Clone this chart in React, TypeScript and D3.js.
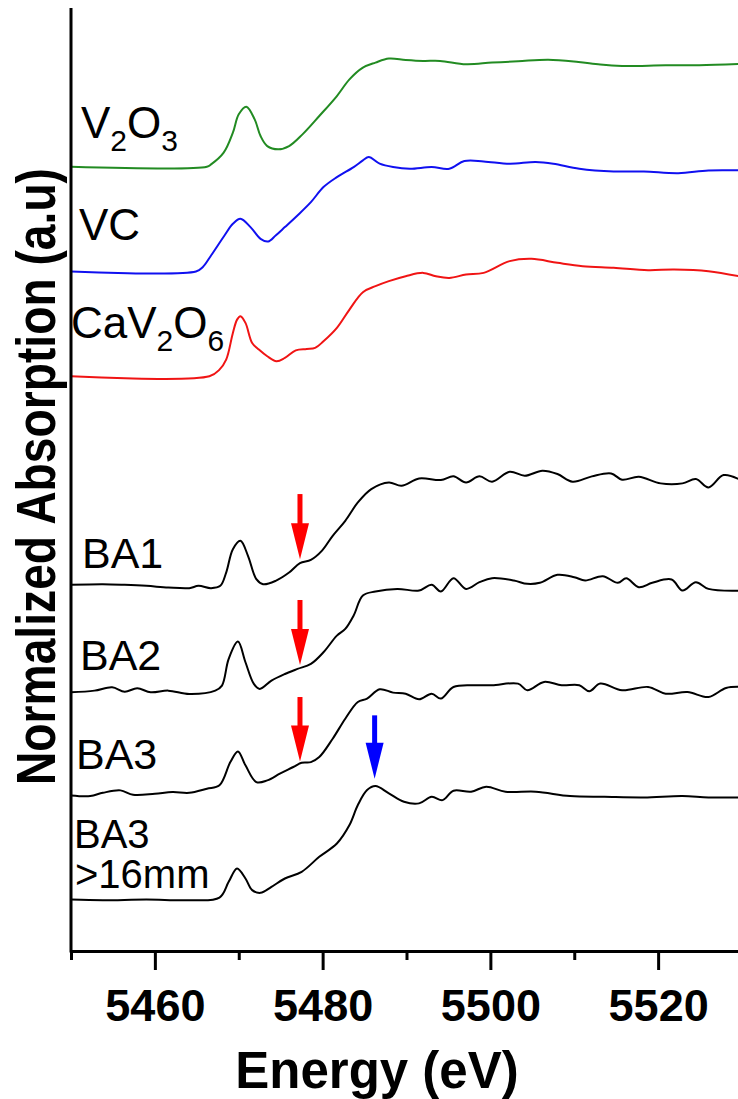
import { useEffect, useMemo, useRef } from 'react';
import * as d3 from 'd3';

const WIDTH = 738;
const HEIGHT = 1099;
const FONT = '"Liberation Sans", Arial, sans-serif';

type Pt = [number, number];

// energy (eV), normalized absorption (pre-edge = 0, edge step = 1)
const v2o3: Pt[] = [
    [5450, 0], [5466.2, 0], [5466.7, 0.022], [5468.2, 0.134], [5469.3, 0.325],
    [5470, 0.5], [5470.9, 0.573], [5471.9, 0.452], [5472.6, 0.293], [5473.4, 0.197],
    [5474.7, 0.166], [5476, 0.197], [5477.6, 0.309], [5479.6, 0.484], [5481.7, 0.675],
    [5483.2, 0.834], [5484.8, 0.946], [5486.3, 0.994], [5487.9, 1.032], [5489.9, 1.019],
    [5492, 1.01], [5494, 1.01], [5497.1, 0.978], [5500.2, 0.994], [5503.3, 1.006],
    [5506.9, 1.022], [5510.5, 1.0], [5513.1, 0.975], [5515.7, 0.962], [5520.9, 0.968],
    [5524.9, 0.968], [5530, 0.981],
];

const vc: Pt[] = [
    [5450, 0], [5464.9, 0], [5465.7, 0.041], [5466.7, 0.153], [5468.3, 0.344],
    [5469.3, 0.455], [5470.2, 0.503], [5471.4, 0.424], [5472.6, 0.312], [5473.5, 0.287],
    [5474.4, 0.344], [5475.5, 0.424], [5477, 0.535], [5478.6, 0.662], [5480.1, 0.806],
    [5481.7, 0.901], [5483.7, 0.997], [5484.8, 1.06], [5485.5, 1.092], [5486.8, 1.029],
    [5488.4, 0.997], [5490.4, 0.981], [5493, 0.997], [5495.1, 0.981], [5496.9, 1.054],
    [5499.2, 1.051], [5502.3, 1.029], [5505.4, 1.045], [5507.5, 1.029], [5510.6, 0.981],
    [5514.7, 0.955], [5518.3, 0.955], [5522.4, 0.939], [5526, 0.965], [5530, 0.965],
];

const cav2o6: Pt[] = [
    [5450, 0], [5466.5, 0], [5467.7, 0.064], [5468.5, 0.159], [5469.3, 0.414],
    [5469.8, 0.541], [5470.2, 0.573], [5470.8, 0.51], [5471.6, 0.318], [5472.4, 0.255],
    [5473.4, 0.191], [5474.5, 0.143], [5475.5, 0.175], [5476.8, 0.248], [5478.1, 0.261],
    [5479.1, 0.271], [5480.1, 0.334], [5481.7, 0.462], [5483.2, 0.637], [5484.8, 0.803],
    [5486.3, 0.86], [5487.9, 0.908], [5489.9, 0.955], [5492, 0.987], [5493.5, 0.955],
    [5495.1, 0.939], [5497.1, 0.971], [5499.2, 0.987], [5502.3, 1.099], [5504.9, 1.121],
    [5508, 1.083], [5511, 1.051], [5514.7, 1.035], [5518.8, 1.013], [5521.9, 1.019],
    [5526, 1.003], [5530, 0.949],
];

const ba1: Pt[] = [
    [5450, 0.01], [5453.8, 0.016], [5456.4, 0.01], [5459, 0], [5461.6, -0.016],
    [5464.1, -0.022], [5465.2, 0], [5466.7, -0.022], [5467.8, 0], [5468.5, 0.127],
    [5469.3, 0.35], [5470.2, 0.43], [5471.1, 0.287], [5472.1, 0.064], [5472.9, 0.016],
    [5474.4, 0.048], [5476, 0.127], [5477.3, 0.217], [5478.6, 0.248], [5479.9, 0.334],
    [5481.2, 0.478], [5482.7, 0.621], [5484.2, 0.796], [5485.8, 0.924], [5487.9, 0.987],
    [5489.4, 0.955], [5491.5, 1.025], [5494.1, 1.01], [5495.6, 1.045], [5497.1, 0.987],
    [5498.7, 1.045], [5500.2, 0.994], [5502.3, 1.089], [5504.1, 1.051], [5506.2, 1.099],
    [5508, 1.067], [5509.8, 0.994], [5512.1, 1.045], [5514.4, 1.073], [5515.7, 1.013],
    [5517.7, 1.041], [5520.3, 0.978], [5522.9, 0.978], [5524.5, 1.019], [5526, 0.939],
    [5527.8, 1.057], [5530, 1.003],
];

const ba2: Pt[] = [
    [5450, -0.016], [5452.8, 0], [5454.9, 0.032], [5456.4, -0.01], [5457.9, 0.022],
    [5459.5, -0.016], [5461.6, 0], [5464.1, -0.032], [5467.2, 0], [5468, 0.048],
    [5468.8, 0.303], [5469.9, 0.468], [5470.8, 0.271], [5471.8, 0.064], [5472.5, 0.016],
    [5473.9, 0.096], [5475.5, 0.159], [5477, 0.207], [5478.6, 0.255], [5480.1, 0.366],
    [5481.7, 0.525], [5482.7, 0.589], [5483.7, 0.717], [5484.8, 0.908], [5486.3, 0.946],
    [5488.9, 0.971], [5491.5, 0.955], [5493, 1.01], [5494.1, 0.946], [5495.6, 1.073],
    [5497.1, 0.971], [5498.7, 1.035], [5500.2, 1.073], [5502.8, 1.051], [5504.4, 1.019],
    [5505.9, 1.029], [5508, 1.105], [5510, 1.083], [5511.3, 1.051], [5513.4, 1.092],
    [5515.2, 1.029], [5516.2, 1.073], [5517.7, 0.987], [5519.3, 1.029], [5521.6, 1.061],
    [5522.9, 0.955], [5524.5, 1.035], [5526, 0.971], [5530, 0.955],
];

const ba3: Pt[] = [
    [5450, 0], [5452.3, -0.006], [5453.8, 0.025], [5455.9, 0.048], [5457.4, 0.006],
    [5460, 0.016], [5462.1, 0.032], [5464.1, 0.025], [5466.2, 0.064], [5467.7, 0.096],
    [5469, 0.318], [5469.9, 0.42], [5470.8, 0.287], [5472.1, 0.127], [5473.4, 0.143],
    [5474.9, 0.207], [5476.5, 0.271], [5477.5, 0.312], [5478.6, 0.318], [5479.6, 0.366],
    [5481.2, 0.541], [5482.7, 0.732], [5484.2, 0.892], [5485.3, 0.924], [5486.8, 1.013],
    [5488.4, 0.981], [5489.9, 0.971], [5491.5, 0.917], [5493, 0.971], [5494.1, 0.924],
    [5495.6, 1.035], [5498.2, 1.051], [5500.2, 1.051], [5503.3, 1.067], [5504.4, 1.003],
    [5506.4, 1.083], [5508.5, 1.051], [5510.6, 1.051], [5511.8, 0.994], [5513.1, 1.067],
    [5515.7, 1.003], [5518.8, 1.035], [5520.9, 0.971], [5523.5, 0.987], [5526, 0.939],
    [5528.1, 1.025], [5530, 1.035],
];

const ba3Coarse: Pt[] = [
    [5450, 0.006], [5453.8, 0], [5459, 0.006], [5464.1, 0], [5467.7, 0.025],
    [5468.8, 0.175], [5469.8, 0.303], [5470.8, 0.207], [5471.6, 0.096], [5472.6, 0.07],
    [5473.9, 0.127], [5475.5, 0.207], [5477.5, 0.271], [5479.6, 0.414], [5481.7, 0.541],
    [5483.2, 0.717], [5484.2, 0.908], [5485.3, 1.051], [5486.3, 1.089], [5487.9, 1.019],
    [5489.7, 0.939], [5491.5, 0.924], [5493, 0.987], [5494.3, 0.955], [5495.6, 1.045],
    [5497.7, 1.035], [5499.5, 1.083], [5501.8, 1.035], [5505.4, 1.035], [5509.5, 0.994],
    [5513.6, 0.987], [5518.3, 0.981], [5522.9, 0.994], [5526, 0.981], [5530, 0.981],
];

// vertical stacking offsets (a.u.)
const offsets = [7.485, 6.485, 5.485, 3.485, 2.485, 1.485, 0.485];
const colours = ['#228b22', '#1010f0', '#f01414', '#000', '#000', '#000', '#000'];
const spectra = [v2o3, vc, cav2o6, ba1, ba2, ba3, ba3Coarse];

const majorTicks = [5460, 5480, 5500, 5520];
const minorTicks = [5450, 5470, 5490, 5510, 5530];

// arrows: spectrum index, energy, start/end height above that spectrum's baseline
const arrows = [
    { idx: 3, energy: 5477.3, from: 0.876, to: 0.253, colour: '#ff0000' },
    { idx: 4, energy: 5477.3, from: 0.865, to: 0.244, colour: '#ff0000' },
    { idx: 5, energy: 5477.3, from: 0.939, to: 0.324, colour: '#ff0000' },
    { idx: 6, energy: 5486.2, from: 1.764, to: 1.16, colour: '#0000ff' },
];

const margin = { top: 8, right: -4, bottom: 148, left: 71 };

export default function App() {
    const xMajorEl = useRef<SVGGElement>(null);
    const xMinorEl = useRef<SVGGElement>(null);

    const xScale = useMemo(
        () =>
            d3
                .scaleLinear()
                .domain([5450, 5530])
                .range([margin.left, WIDTH - margin.right]),
        []
    );
    const yScale = useMemo(
        () =>
            d3
                .scaleLinear()
                .domain([0, 9])
                .range([HEIGHT - margin.bottom, margin.top]),
        []
    );

    const paths = useMemo(
        () =>
            spectra.map((data, i) =>
                d3
                    .line<Pt>()
                    .x((d) => xScale(d[0]))
                    .y((d) => yScale(d[1] + offsets[i]))
                    .curve(d3.curveCatmullRom.alpha(0.5))(data)
            ),
        [xScale, yScale]
    );

    useEffect(() => {
        if (xMajorEl.current) {
            const g = d3.select(xMajorEl.current);
            g.call(
                d3
                    .axisBottom(xScale)
                    .tickValues(majorTicks)
                    .tickSize(19)
                    .tickSizeOuter(0)
                    .tickPadding(19)
                    .tickFormat(d3.format('d'))
            );
            g.attr('font-family', FONT).attr('font-size', 45).attr('font-weight', 'bold');
            g.selectAll('line').attr('stroke-width', 3);
            g.select('.domain').attr('stroke-width', 3);
        }
        if (xMinorEl.current) {
            const g = d3.select(xMinorEl.current);
            g.call(
                d3
                    .axisBottom(xScale)
                    .tickValues(minorTicks)
                    .tickSize(9)
                    .tickSizeOuter(0)
                    .tickFormat(() => '')
            );
            g.select('.domain').remove();
            g.selectAll('line').attr('stroke-width', 3);
        }
    }, [xScale]);

    const base = (i: number) => yScale(offsets[i]);

    return (
        <svg
            width={WIDTH}
            height={HEIGHT}
            viewBox={`0 0 ${WIDTH} ${HEIGHT}`}
            style={{ position: 'absolute', left: 0, top: 0, background: '#fff' }}
        >
            {paths.map((d, i) => (
                <path key={i} d={d ?? ''} fill="none" stroke={colours[i]} strokeWidth={2} />
            ))}

            {arrows.map((a, i) => {
                const x = xScale(a.energy);
                const y0 = yScale(offsets[a.idx] + a.from);
                const y1 = yScale(offsets[a.idx] + a.to);
                const head = 36;
                return (
                    <g key={i} fill={a.colour}>
                        <rect x={x - 2.5} y={y0} width={5} height={y1 - y0 - head + 2} />
                        <path d={`M${x - 9},${y1 - head}L${x + 9},${y1 - head}L${x},${y1}Z`} />
                    </g>
                );
            })}

            <g fontFamily={FONT} fill="#000">
                <text x={81} y={base(0) - 29} fontSize={44}>
                    V<tspan fontSize={30} dy={13}>2</tspan>
                    <tspan dy={-13}>O</tspan>
                    <tspan fontSize={30} dy={13}>3</tspan>
                </text>
                <text x={79} y={base(1) - 31.5} fontSize={44}>VC</text>
                <text x={71} y={base(2) - 38} fontSize={44}>
                    CaV<tspan fontSize={30} dy={13}>2</tspan>
                    <tspan dy={-13}>O</tspan>
                    <tspan fontSize={30} dy={13}>6</tspan>
                </text>
                <text x={82} y={base(3) - 18} fontSize={43}>BA1</text>
                <text x={80} y={base(4) - 20.5} fontSize={43}>BA2</text>
                <text x={76} y={base(5) - 26} fontSize={43}>BA3</text>
                <text x={74} y={base(6) - 52.5} fontSize={40}>BA3</text>
                <text x={75} y={base(6) - 12} fontSize={40}>&gt;16mm</text>
            </g>

            <g ref={xMinorEl} transform={`translate(0, ${HEIGHT - margin.bottom})`} />
            <g ref={xMajorEl} transform={`translate(0, ${HEIGHT - margin.bottom})`} />
            <line
                x1={margin.left}
                x2={margin.left}
                y1={margin.top}
                y2={HEIGHT - margin.bottom + 1.5}
                stroke="#000"
                strokeWidth={3}
            />

            <text
                x={(237 + 517) / 2}
                y={1088}
                textAnchor="middle"
                fontFamily={FONT}
                fontWeight="bold"
                fontSize={51}
            >
                Energy (eV)
            </text>
            <text
                transform={`translate(55, ${(785 + 168) / 2}) rotate(-90)`}
                textAnchor="middle"
                fontFamily={FONT}
                fontWeight="bold"
                fontSize={56}
                textLength={617}
                lengthAdjust="spacingAndGlyphs"
            >
                Normalized Absorption (a.u)
            </text>
        </svg>
    );
}
